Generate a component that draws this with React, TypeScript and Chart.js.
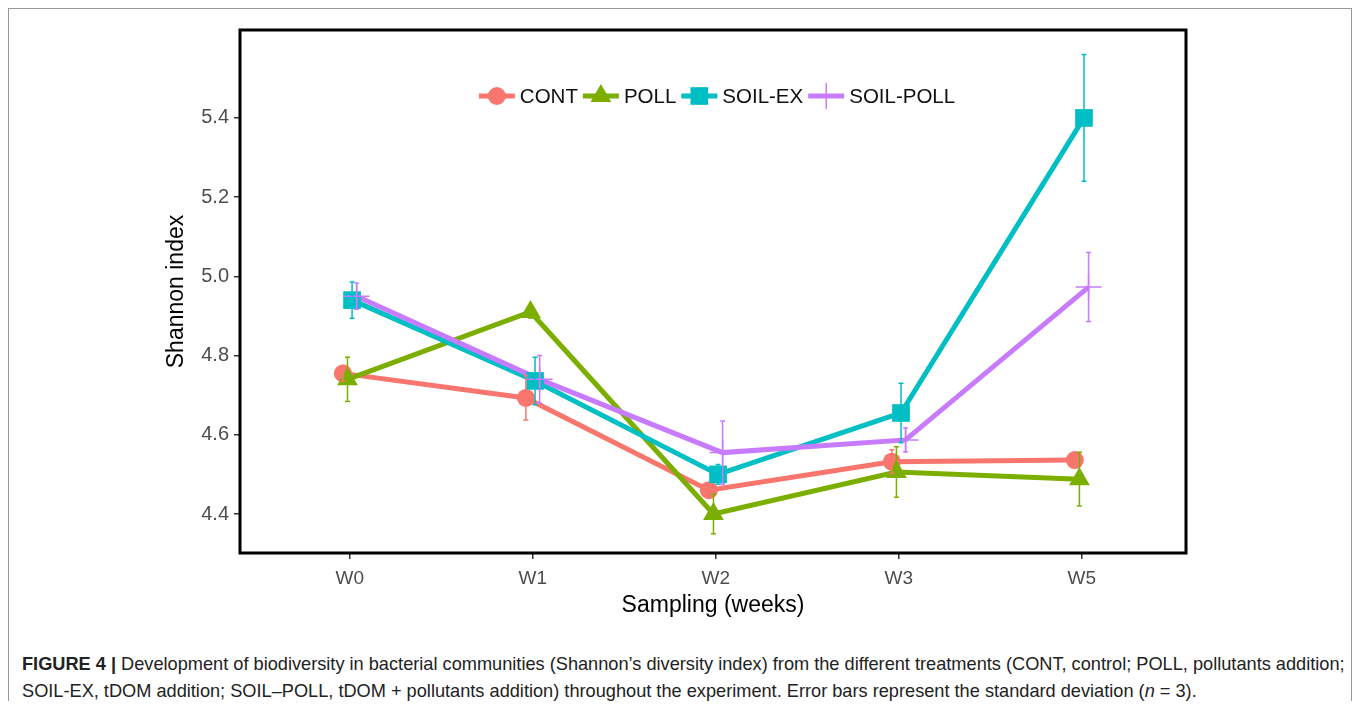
import React, { useEffect, useRef } from 'react';
import { Chart, registerables } from 'chart.js';

Chart.register(...registerables);

const categories = ['W0', 'W1', 'W2', 'W3', 'W5'];
const seriesNames = ['CONT', 'POLL', 'SOIL-EX', 'SOIL-POLL'];

const contMean = [4.755, 4.693, 4.46, 4.532, 4.536];
const contSd = [0.02, 0.056, 0.015, 0.03, 0.01];
const pollMean = [4.74, 4.91, 4.4, 4.506, 4.488];
const pollSd = [0.056, 0.015, 0.05, 0.064, 0.068];
const soilExMean = [4.94, 4.736, 4.5, 4.655, 5.4];
const soilExSd = [0.046, 0.06, 0.025, 0.075, 0.16];
const soilPollMean = [4.95, 4.74, 4.555, 4.587, 4.973];
const soilPollSd = [0.033, 0.06, 0.08, 0.03, 0.087];

const yTicks = [4.4, 4.6, 4.8, 5.0, 5.2, 5.4];

const means = [contMean, pollMean, soilExMean, soilPollMean];
const sds = [contSd, pollSd, soilExSd, soilPollSd];
const colors = ['#F8766D', '#7CAE00', '#00BFC4', '#C77CFF'];
const pointStyles = ['circle', 'triangle', 'rect', 'cross'];
const pointSizes = [9, 12, 12.5, 13];
const dodge = [-0.0375, -0.0125, 0.0125, 0.0375];

const FONT = "'Liberation Sans', Arial, Helvetica, sans-serif";

function drawMarker(ctx: CanvasRenderingContext2D, style: string, x: number, y: number, r: number, color: string) {
  ctx.save();
  ctx.fillStyle = color;
  ctx.strokeStyle = color;
  ctx.beginPath();
  if (style === 'circle') {
    ctx.arc(x, y, r, 0, Math.PI * 2);
    ctx.fill();
  } else if (style === 'triangle') {
    for (let k = 0; k < 3; k++) {
      const a = (k * 2 * Math.PI) / 3;
      const px = x + Math.sin(a) * r;
      const py = y - Math.cos(a) * r;
      if (k === 0) ctx.moveTo(px, py);
      else ctx.lineTo(px, py);
    }
    ctx.closePath();
    ctx.fill();
  } else if (style === 'rect') {
    const s = r * Math.SQRT1_2;
    ctx.rect(x - s, y - s, 2 * s, 2 * s);
    ctx.fill();
  } else if (style === 'cross') {
    ctx.lineWidth = 1.5;
    ctx.moveTo(x - r, y);
    ctx.lineTo(x + r, y);
    ctx.moveTo(x, y - r);
    ctx.lineTo(x, y + r);
    ctx.stroke();
  }
  ctx.restore();
}

const errorBarPlugin = {
  id: 'errorBars',
  afterDatasetsDraw(chart: any) {
    const ctx = chart.ctx;
    const xs = chart.scales.x;
    const ys = chart.scales.y;
    ctx.save();
    for (let i = 0; i < means.length; i++) {
      ctx.strokeStyle = colors[i];
      ctx.lineWidth = 1.5;
      for (let j = 0; j < categories.length; j++) {
        const x = xs.getPixelForValue(j + dodge[i]);
        const yt = ys.getPixelForValue(means[i][j] + sds[i][j]);
        const yb = ys.getPixelForValue(means[i][j] - sds[i][j]);
        ctx.beginPath();
        ctx.moveTo(x, yt);
        ctx.lineTo(x, yb);
        ctx.moveTo(x - 2.5, yt);
        ctx.lineTo(x + 2.5, yt);
        ctx.moveTo(x - 2.5, yb);
        ctx.lineTo(x + 2.5, yb);
        ctx.stroke();
      }
    }
    ctx.restore();
  },
};

const framePlugin = {
  id: 'frameAndLegend',
  afterDraw(chart: any) {
    const ctx = chart.ctx;
    const a = chart.chartArea;
    ctx.save();
    ctx.strokeStyle = '#000';
    ctx.lineWidth = 3;
    ctx.strokeRect(a.left, a.top, a.right - a.left, a.bottom - a.top);

    // legend
    ctx.font = `20.5px ${FONT}`;
    const keyW = 36;
    const gapText = 5;
    const gapItem = 5;
    const widths = seriesNames.map((n) => ctx.measureText(n).width);
    const total = widths.reduce((s, w) => s + keyW + gapText + w, 0) + gapItem * (seriesNames.length - 1);
    let x = (a.left + a.right) / 2 + 4 - total / 2;
    const y = a.top + 66;
    ctx.textBaseline = 'middle';
    ctx.textAlign = 'left';
    for (let i = 0; i < seriesNames.length; i++) {
      ctx.strokeStyle = colors[i];
      ctx.lineWidth = 5;
      ctx.beginPath();
      ctx.moveTo(x, y);
      ctx.lineTo(x + keyW, y);
      ctx.stroke();
      drawMarker(ctx, pointStyles[i], x + keyW / 2, y, pointSizes[i], colors[i]);
      ctx.fillStyle = '#111';
      ctx.fillText(seriesNames[i], x + keyW + gapText, y + 1);
      x += keyW + gapText + widths[i] + gapItem;
    }
    ctx.restore();
  },
};

export default function App() {
  const ref = useRef<HTMLCanvasElement | null>(null);

  useEffect(() => {
    if (!ref.current) return;
    const datasets: any[] = [];
    for (let i = 0; i < means.length; i++) {
      const data = means[i].map((v, j) => ({ x: j + dodge[i], y: v }));
      datasets.push({
        label: seriesNames[i] + ' line',
        data,
        showLine: true,
        borderColor: colors[i],
        backgroundColor: colors[i],
        borderWidth: 5,
        pointRadius: 0,
        fill: false,
        order: 10 + (3 - i),
      });
      datasets.push({
        label: seriesNames[i],
        data,
        showLine: false,
        pointStyle: pointStyles[i],
        pointRadius: pointSizes[i],
        pointBackgroundColor: colors[i],
        pointBorderColor: colors[i],
        pointBorderWidth: pointStyles[i] === 'cross' ? 1.5 : 0,
        order: 3 - i,
      });
    }
    const chart = new Chart(ref.current, {
      type: 'scatter',
      data: { datasets },
      options: {
        animation: false,
        responsive: false,
        events: [],
        layout: { padding: { left: 0, top: 21, right: 165, bottom: 10 } },
        plugins: { legend: { display: false }, tooltip: { enabled: false } },
        scales: {
          x: {
            type: 'linear',
            min: -0.6,
            max: 4.57,
            afterBuildTicks: (s: any) => {
              s.ticks = categories.map((_, i) => ({ value: i }));
            },
            afterFit: (s: any) => {
              s.height = 70;
            },
            ticks: {
              callback: (v: any) => categories[v as number] ?? '',
              color: '#4D4D4D',
              font: { family: FONT, size: 19 },
              padding: 8,
              autoSkip: false,
              maxRotation: 0,
            },
            grid: { display: true, drawOnChartArea: false, drawTicks: true, tickLength: 6, color: '#333', lineWidth: 1.5 },
            border: { display: false },
            title: {
              display: true,
              text: 'Sampling (weeks)',
              color: '#000',
              font: { family: FONT, size: 23 },
              padding: { top: 0, bottom: 4 },
            },
          },
          y: {
            type: 'linear',
            min: 4.3015,
            max: 5.622,
            afterBuildTicks: (s: any) => {
              s.ticks = yTicks.map((v) => ({ value: v }));
            },
            afterFit: (s: any) => {
              s.width = 231;
            },
            ticks: {
              callback: (v: any) => Number(v).toFixed(1),
              color: '#4D4D4D',
              font: { family: FONT, size: 20 },
              padding: 5,
            },
            grid: { display: true, drawOnChartArea: false, drawTicks: true, tickLength: 6, color: '#333', lineWidth: 1.5 },
            border: { display: false },
            title: {
              display: true,
              text: 'Shannon index',
              color: '#000',
              font: { family: FONT, size: 23 },
              padding: { top: 154, bottom: 0 },
            },
          },
        },
      },
      plugins: [errorBarPlugin, framePlugin],
    });
    return () => chart.destroy();
  }, []);

  return (
    <div
      style={{
        position: 'relative',
        width: 1342,
        height: 692,
        borderTop: '1px solid #999',
        borderLeft: '1px solid #999',
        borderRight: '1px solid #999',
        background: '#fff',
        fontFamily: FONT,
      }}
    >
      <canvas ref={ref} width={1342} height={624} style={{ display: 'block', position: 'absolute', left: 0, top: 0 }} />
      <div
        style={{
          position: 'absolute',
          left: 13,
          top: 642,
          fontSize: 18.2,
          lineHeight: '27px',
          color: '#222',
          whiteSpace: 'nowrap',
        }}
      >
        <span style={{ fontWeight: 'bold' }}>FIGURE 4 |</span> Development of biodiversity in bacterial communities
        (Shannon’s diversity index) from the different treatments (CONT, control; POLL, pollutants addition;
        <br />
        SOIL-EX, tDOM addition; SOIL–POLL, tDOM + pollutants addition) throughout the experiment. Error bars represent
        the standard deviation (<i>n</i> = 3).
      </div>
    </div>
  );
}
